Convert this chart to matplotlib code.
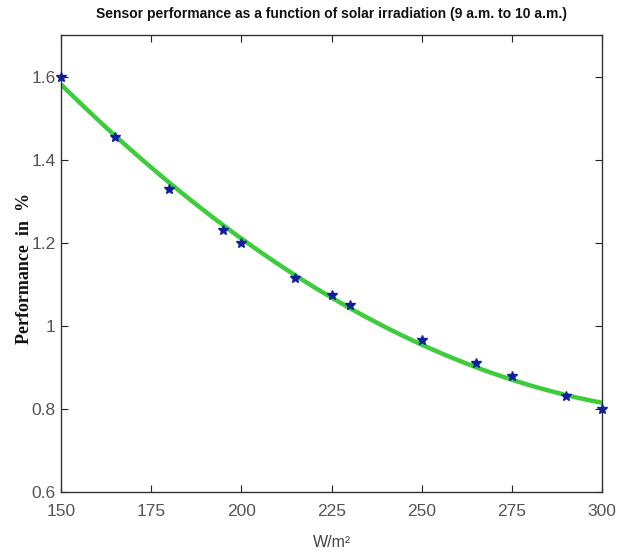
#!/usr/bin/python3
# -*- coding: utf-8 -*-

# Sensor performance vs. solar irradiation, measured points with a quadratic fit

import numpy as np
import matplotlib
matplotlib.use('Agg')
import matplotlib.pyplot as plt

irradiation = [150, 165, 180, 195, 200, 215, 225, 230, 250, 265, 275, 290, 300]
performance = [1.60, 1.455, 1.33, 1.23, 1.20, 1.115, 1.075, 1.05, 0.965,
               0.91, 0.88, 0.83, 0.80]

x_ticks = [150, 175, 200, 225, 250, 275, 300]
y_ticks = [0.6, 0.8, 1.0, 1.2, 1.4, 1.6]
y_tick_labels = ['0.6', '0.8', '1', '1.2', '1.4', '1.6']

sans = ['Liberation Sans', 'DejaVu Sans']


def main():

    fig = plt.figure(figsize=(6.22, 5.57), dpi=100)
    ax = fig.add_axes([0.098, 0.117, 0.870, 0.820])

    # 2nd order fit through the measured points
    coef = np.polyfit(irradiation, performance, 2)
    xs = np.linspace(min(irradiation), max(irradiation), 200)
    ax.plot(xs, np.polyval(coef, xs), color='#3ccc3c', linewidth=3.2,
            solid_capstyle='butt', zorder=2)

    ax.plot(irradiation, performance, linestyle='None', marker='*',
            markersize=7, markerfacecolor='#10209a',
            markeredgecolor='#10209a', zorder=3, clip_on=False)

    ax.set_xlim(150, 300)
    ax.set_ylim(0.6, 1.7)
    ax.set_xticks(x_ticks)
    ax.set_yticks(y_ticks)
    ax.set_yticklabels(y_tick_labels)

    ax.tick_params(direction='in', top=True, right=True, length=5,
                   width=0.8, colors='#222222', labelcolor='#555555',
                   labelsize=12.5)
    ax.tick_params(axis='x', pad=9)
    ax.tick_params(axis='y', pad=4)
    for lab in ax.get_xticklabels() + ax.get_yticklabels():
        lab.set_family(sans)

    for sp in ax.spines.values():
        sp.set_color('#333333')
        sp.set_linewidth(1.0)

    ax.set_title('Sensor performance as a function of solar irradiation '
                 '(9 a.m. to 10 a.m.)', family=sans, fontsize=10,
                 fontweight='bold', color='#111111', pad=12)
    ax.set_xlabel('W/m²', family=sans, fontsize=11.5, color='#444444')
    ax.xaxis.set_label_coords(0.5, -0.094)
    ax.xaxis.label.set_verticalalignment('top')
    ax.set_ylabel('Performance  in  %', family=['Liberation Serif'],
                  fontsize=13, fontweight='bold', color='#111111')
    ax.yaxis.set_label_coords(-0.052, 0.49)

    fig.savefig('out.png', dpi=100)


if __name__ == '__main__':

    main()
